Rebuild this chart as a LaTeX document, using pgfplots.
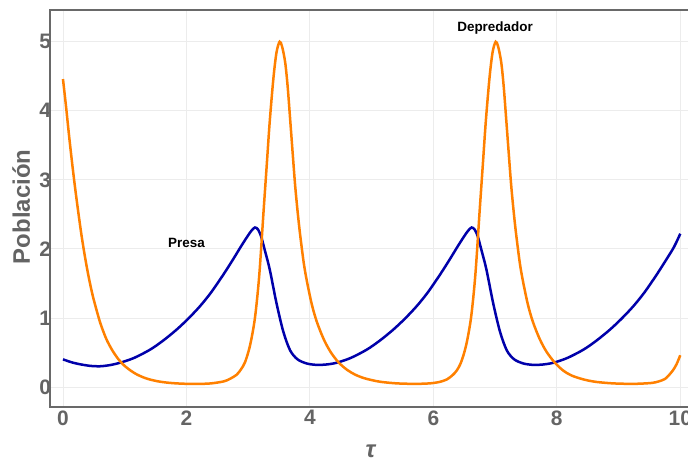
\documentclass[border=0pt]{standalone}
\usepackage{fontspec}
\setmainfont{Liberation Sans}
\usepackage{pgfplots}
\pgfplotsset{compat=1.18}
\definecolor{framegray}{RGB}{105,105,105}
\definecolor{ticklab}{RGB}{100,100,100}
\definecolor{gridc}{RGB}{236,236,236}
\definecolor{mOrange}{RGB}{255,128,0}
\definecolor{mBlue}{RGB}{0,0,170}
\begin{document}
\begin{tikzpicture}
\begin{axis}[
  scale only axis, width=642bp, height=397bp,
  xmin=-0.21, xmax=10.19, ymin=-0.29, ymax=5.46,
  xtick={0,2,...,10}, ytick={0,1,...,5},
  grid=major, major grid style={gridc, line width=0.8bp},
  major tick length=0pt,
  axis line style={draw=none},
  clip=false,
  /pgf/number format/assume math mode=true,
  tick label style={font=\fontsize{21}{25}\selectfont\bfseries, text=ticklab},
  yticklabel style={xshift=4.5bp},
  xlabel={\textbf{\textit{τ}}}, ylabel={Población},
  every axis x label/.style={at={(axis description cs:0.5,-0.111)}, anchor=center},
  every axis y label/.style={at={(axis description cs:-0.045,0.504)}, anchor=center, rotate=90},
  label style={font=\fontsize{24}{28}\selectfont\bfseries, text=ticklab},
]
% Prey (Presa)
\addplot[mBlue, line width=2.5bp, smooth, tension=0.5] coordinates {
(0,0.40) (0.15,0.355) (0.30,0.325) (0.45,0.305) (0.60,0.30) (0.75,0.315) (0.92,0.35)
(1.15,0.42) (1.41,0.54) (1.62,0.67) (1.84,0.83) (2.03,0.99) (2.22,1.17) (2.40,1.37)
(2.60,1.63) (2.75,1.84) (2.88,2.03) (2.98,2.17) (3.05,2.26) (3.11,2.31) (3.16,2.28)
(3.21,2.18) (3.27,1.98) (3.35,1.70) (3.46,1.21) (3.57,0.80) (3.68,0.53) (3.80,0.40)
(3.95,0.34) (4.11,0.32) (4.26,0.325) (4.43,0.35) (4.66,0.42) (4.92,0.54) (5.13,0.67)
(5.35,0.83) (5.54,0.99) (5.73,1.17) (5.91,1.37) (6.11,1.63) (6.26,1.84) (6.39,2.03)
(6.49,2.17) (6.56,2.26) (6.62,2.31) (6.67,2.28) (6.72,2.18) (6.78,1.98) (6.86,1.70)
(6.97,1.21) (7.08,0.80) (7.19,0.53) (7.31,0.40) (7.46,0.34) (7.62,0.32) (7.77,0.325)
(7.94,0.35) (8.17,0.42) (8.43,0.54) (8.64,0.67) (8.86,0.83) (9.05,0.99) (9.24,1.17)
(9.42,1.37) (9.62,1.63) (9.77,1.84) (9.90,2.03) (10.0,2.22)
};
% Predator (Depredador)
\addplot[mOrange, line width=2.5bp, smooth, tension=0.5] coordinates {
(0,4.46) (0.05,4.06) (0.10,3.63) (0.15,3.23) (0.20,2.86) (0.25,2.52) (0.30,2.20)
(0.35,1.92) (0.40,1.67) (0.45,1.45) (0.50,1.26) (0.60,0.94) (0.70,0.70) (0.80,0.53)
(0.90,0.40) (1.00,0.305) (1.10,0.235) (1.20,0.18) (1.30,0.14) (1.40,0.11) (1.55,0.08)
(1.70,0.062) (1.84,0.052) (2.03,0.045) (2.22,0.045) (2.40,0.052) (2.60,0.08) (2.70,0.115)
(2.81,0.175) (2.88,0.25) (2.95,0.36) (3.03,0.60) (3.11,1.00) (3.18,1.62) (3.25,2.55)
(3.30,3.20) (3.35,3.85) (3.41,4.48) (3.46,4.85) (3.51,5.00) (3.55,4.93) (3.60,4.70)
(3.64,4.35) (3.68,3.88) (3.72,3.40) (3.76,2.93) (3.80,2.55) (3.84,2.22) (3.90,1.80)
(3.95,1.54) (4.03,1.20) (4.11,0.95) (4.22,0.70) (4.33,0.515) (4.46,0.36) (4.60,0.25)
(4.73,0.18) (4.87,0.13) (5.00,0.10) (5.15,0.074) (5.41,0.052) (5.70,0.045) (5.90,0.05)
(6.00,0.058) (6.11,0.075) (6.22,0.11) (6.31,0.17) (6.38,0.24) (6.45,0.36) (6.53,0.60)
(6.61,1.00) (6.68,1.62) (6.75,2.55) (6.80,3.20) (6.85,3.85) (6.91,4.48) (6.96,4.85)
(7.01,5.00) (7.05,4.93) (7.10,4.70) (7.14,4.35) (7.18,3.88) (7.22,3.40) (7.26,2.93)
(7.30,2.55) (7.34,2.22) (7.40,1.80) (7.45,1.54) (7.53,1.20) (7.61,0.95) (7.72,0.70)
(7.83,0.515) (7.96,0.36) (8.10,0.24) (8.23,0.17) (8.37,0.125) (8.50,0.095) (8.65,0.072)
(8.91,0.052) (9.20,0.045) (9.40,0.05) (9.55,0.06) (9.65,0.08) (9.75,0.115) (9.81,0.165)
(9.88,0.24) (9.94,0.33) (10.0,0.46)
};
\node[font=\fontsize{13.5}{16}\selectfont\bfseries] at (axis cs:2.0,2.08) {Presa};
\node[font=\fontsize{13.5}{16}\selectfont\bfseries] at (axis cs:7.0,5.2) {Depredador};
\draw[framegray, line width=2.4bp] (rel axis cs:1.05,1) -- (rel axis cs:0,1) -- (rel axis cs:0,0) -- (rel axis cs:1.05,0);
\coordinate (sw) at (rel axis cs:0,0);
\end{axis}
\pgfresetboundingbox
\path[use as bounding box] ([shift={(-50bp,-55bp)}]sw) rectangle ([shift={(638bp,407bp)}]sw);
\end{tikzpicture}
\end{document}
